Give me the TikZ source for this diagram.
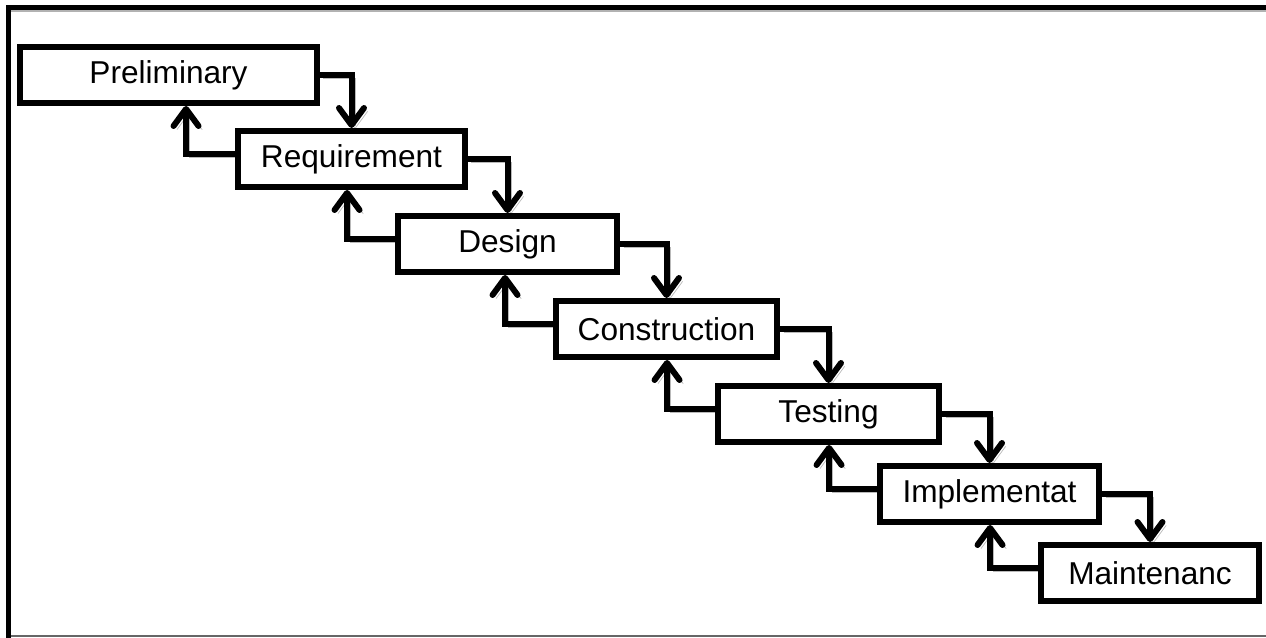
\documentclass[tikz,border=0pt]{standalone}
\usepackage{fontspec}
\setmainfont{Liberation Sans}
\usetikzlibrary{arrows.meta,backgrounds}

\begin{document}
\begin{tikzpicture}[x=0.02cm,y=-0.02cm,line width=0.12cm,
                    >={Straight Barb[length=0.34cm,width=0.5cm,round]}]
  \tikzstyle{phase}=[draw=black,fill=white,minimum height=1.12cm,inner sep=0pt,
                     line width=0.12cm,font=\fontsize{18}{20}\selectfont]
  \tikzstyle{flow}=[->,line width=0.12cm,
                    preaction={draw=gray!55,transform canvas={xshift=2pt,yshift=-2pt}}]

  \useasboundingbox (0,0) rectangle (1266,638);

  \node[phase,minimum width=5.94cm] (P) at (168.5,75) {Preliminary};
  \node[phase,minimum width=4.54cm] (R) at (351.5,159) {Requirement};
  \node[phase,minimum width=4.38cm] (D) at (507.5,244) {Design};
  \node[phase,minimum width=4.42cm] (C) at (666.5,329) {Construction};
  \node[phase,minimum width=4.42cm] (T) at (828.5,414) {Testing};
  \node[phase,minimum width=4.38cm] (I) at (989.5,494) {Implementat};
  \node[phase,minimum width=4.36cm] (M) at (1150,573) {Maintenanc};

  \begin{scope}[on background layer]
    % frame
    \draw[line width=0.1cm] (8.5,645) -- (8.5,7.5) -- (1275,7.5);
    \draw[gray!60,line width=0.03cm] (11,11) -- (1275,11);
    \draw[gray!80!black,line width=0.04cm] (11,636) -- (1275,636);

    % forward flow
    \draw[flow] (P.east) -| (R.north);
    \draw[flow] (R.east) -| (D.north);
    \draw[flow] (D.east) -| (C.north);
    \draw[flow] (C.east) -| (T.north);
    \draw[flow] (T.east) -| (I.north);
    \draw[flow] (I.east) -| (M.north);

    % feedback
    \draw[flow] ([yshift=3pt]R.west) -| ([xshift=-0.98cm]R.west |- P.south);
    \draw[flow] ([yshift=3pt]D.west) -| ([xshift=-0.96cm]D.west |- R.south);
    \draw[flow] ([yshift=3pt]C.west) -| ([xshift=-0.96cm]C.west |- D.south);
    \draw[flow] ([yshift=3pt]T.west) -| ([xshift=-0.96cm]T.west |- C.south);
    \draw[flow] ([yshift=3pt]I.west) -| ([xshift=-0.96cm]I.west |- T.south);
    \draw[flow] ([yshift=3pt]M.west) -| ([xshift=-0.96cm]M.west |- I.south);
  \end{scope}
\end{tikzpicture}
\end{document}
